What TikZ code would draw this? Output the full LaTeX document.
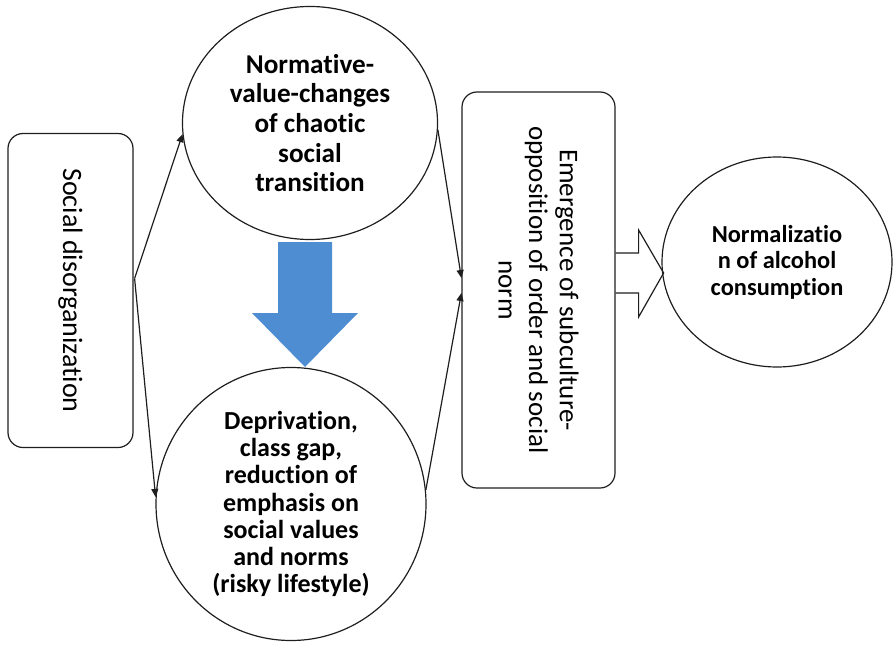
\documentclass[tikz,border=0pt]{standalone}
\usepackage{fontspec}
\setmainfont{Carlito}[RawFeature={-liga;-clig;-calt}]
\usepackage{xcolor}
\usepackage{tikz}
\usetikzlibrary{positioning,arrows.meta,shapes.geometric,calc}
\definecolor{FlowBlue}{RGB}{79,141,210}
\definecolor{LineGray}{RGB}{30,30,30}

\begin{document}
\begin{tikzpicture}[
  x=0.5pt, y=0.5pt,
  line width=0.6pt,
  rbox/.style={draw=LineGray, rounded corners=7.5pt, align=center, inner sep=2pt},
  oval/.style={draw=LineGray, ellipse, align=center, inner sep=0pt},
  arrow/.style={-{Triangle[length=4pt,width=3.5pt]}, color=LineGray},
  hollow/.style={draw=LineGray, line join=miter}
]
\useasboundingbox (0,0) rectangle (893,644);

\node[rbox, rotate=-90, minimum width=157pt, minimum height=62.5pt,
  font=\fontsize{14}{16}\selectfont] (dis) at (70.5,353.5) {Social disorganization};
\node[oval, minimum width=127.5pt, minimum height=116.5pt,
  font=\fontsize{13.6}{14.8}\selectfont\bfseries] (norm) at (310,521) {Normative-\\value-changes\\of chaotic\\social\\transition};
\node[oval, minimum width=135pt, minimum height=136.5pt,
  font=\fontsize{13}{13.6}\selectfont\bfseries] (depr) at (291,140) {Deprivation,\\class gap,\\reduction of\\emphasis on\\social values\\and norms\\(risky lifestyle)};
\node[rbox, rotate=-90, minimum width=198pt, minimum height=76.5pt,
  font=\fontsize{13.5}{15.3}\selectfont] (emg) at (538.5,354) {Emergence of subculture-\\opposition of order and social\\norm};
\node[oval, minimum width=115pt, minimum height=105pt,
  font=\fontsize{12.2}{13.3}\selectfont\bfseries] (alco) at (777,382) {Normalizatio\\n of alcohol\\consumption};

\coordinate (split) at ($(dis.north)+(1,12)$);

\draw[arrow] (split) -- (norm.185);
\draw[arrow] (split) -- (depr.177);
\draw[arrow] (norm.357) -- ($(emg.south)+(0,12)$);
\draw[arrow] (depr.6) -- ($(emg.south)+(0,-3)$);

% big blue arrow between the two circles
\fill[FlowBlue] (278,402) -- (332,402) -- (332,331) -- (358,331) -- (305,277) -- (252,331) -- (278,331) -- cycle;

% open block arrow into the last ellipse
\draw[hollow] ($(emg.north)+(0,37)$) -- ++(23,0) -- ++(0,23) -- ++(25,-43) -- ++(-25,-44) -- ++(0,24) -- ++(-23,0);
\end{tikzpicture}
\end{document}
